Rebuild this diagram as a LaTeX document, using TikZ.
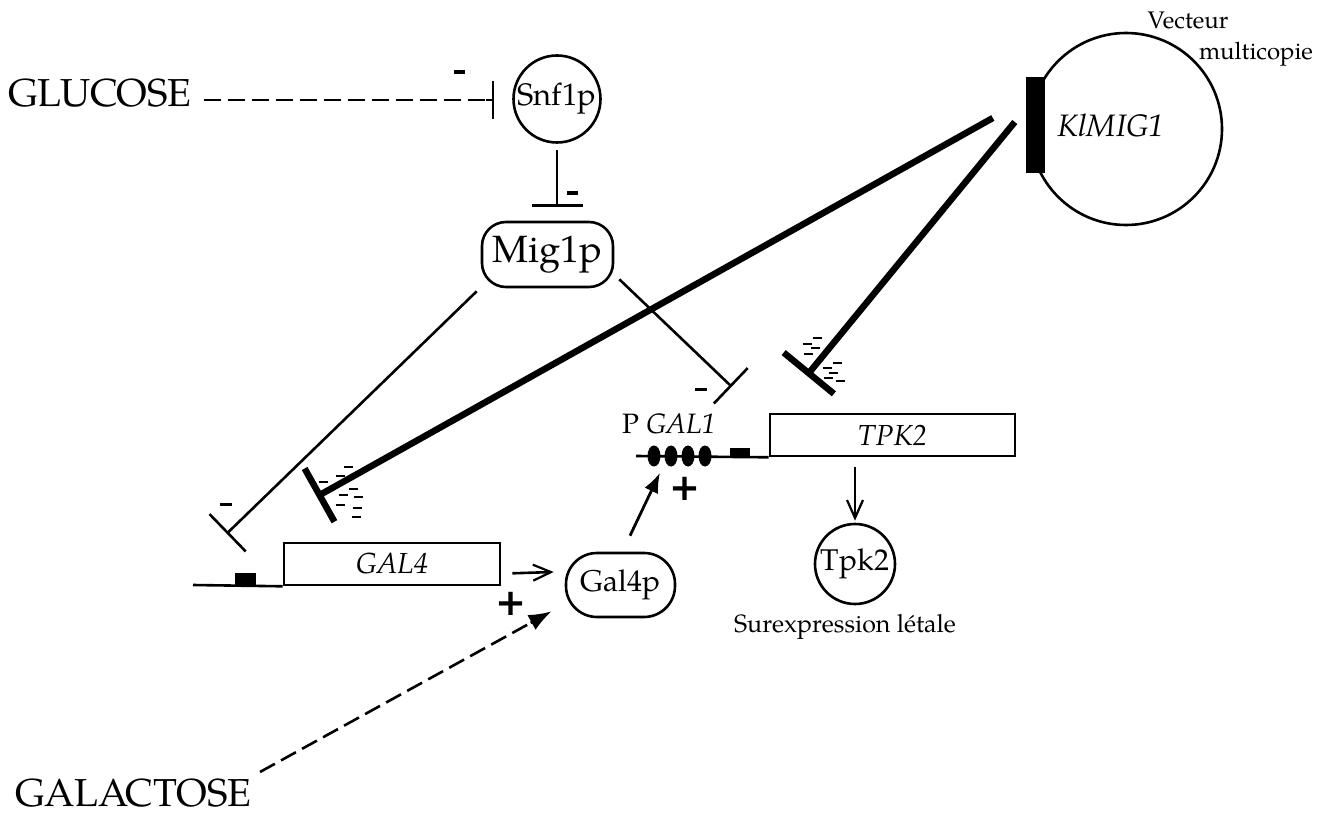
\documentclass[tikz,border=0pt]{standalone}
\usepackage{fontspec}
\setmainfont{texgyrepagella}[Extension=.otf, UprightFont=*-regular, ItalicFont=*-italic, BoldFont=*-bold, BoldItalicFont=*-bolditalic]
\newfontfamily\signfont{DejaVu Sans}
\usetikzlibrary{arrows.meta,calc,shapes.geometric}

\newcommand\fsz[1]{\fontsize{#1}{#1}\selectfont}

\begin{document}
\begin{tikzpicture}[x=1pt,y=-1pt,
  thinln/.style={line width=2.6pt},
  thickln/.style={line width=6.5pt},
  inhib/.style={thinln,-{Bar[width=#1]}},
  strong/.style={thickln,-{Bar[width=#1]}},
  openarr/.style={thinln,-{Straight Barb[length=18pt,width=16pt,line width=2.2pt]}},
  fillarr/.style={line width=2.8pt,-{Latex[length=20pt,width=15pt]}},
  dashln/.style={thinln,dash pattern=on 17pt off 7pt},
  gene/.style={draw,thinln,rectangle,inner sep=0,minimum height=42pt,font=\fsz{29}\itshape},
  prot/.style={draw,thinln,inner sep=0},
  plus/.style={inner sep=0,font=\signfont\bfseries\fsz{37}},
  minus/.style={line width=4pt},
  tick/.style={line width=2pt},
  promo/.style={fill=black,inner sep=0}
]
\useasboundingbox (0,0) rectangle (1331,818);

% ---- inputs ----
\node[anchor=base west,inner sep=0,font=\fsz{39}] (glucose) at (8,107) {GLUCOSE};
\node[anchor=base west,inner sep=0,font=\fsz{39}] (galactose) at (15,806) {GALACTOSE};

% ---- proteins ----
\node[prot,circle,minimum size=87pt,font=\fsz{31}] (snf) at (557,99) {Snf1p};
\node[prot,rectangle,rounded corners=24pt,minimum width=131pt,minimum height=65pt,font=\fsz{38}] (mig) at (547.5,254.5) {Mig1p};
\node[prot,rectangle,rounded corners=31pt,minimum width=109pt,minimum height=64pt,font=\fsz{30}] (gal4p) at (620.5,585) {Gal4p};
\node[prot,circle,minimum size=80pt,font=\fsz{30}] (tpk2p) at (855,564) {Tpk2};
\node[anchor=base,inner sep=0,font=\fsz{25}] (lethal) at (845,632) {Surexpression létale};

% ---- multicopy vector ----
\node[prot,circle,minimum size=192pt] (vec) at (1126,129) {};
\node[promo,minimum width=19pt,minimum height=96pt] (klbar) at (1035.5,125) {};
\node[anchor=base,inner sep=0,font=\fsz{31}\itshape] (klmig) at (1111,137) {KlMIG1};
\node[anchor=base,inner sep=0,font=\fsz{24}] (vect) at (1188,29) {Vecteur};
\node[anchor=base,inner sep=0,font=\fsz{24}] (multi) at (1256,60) {multicopie};

% ---- GAL4 gene ----
\node[gene,minimum width=216pt] (gal4box) at (392,564) {GAL4};
\coordinate (g4left) at (193,585);
\draw[thinln] (g4left) -- (gal4box.south west);
\node[promo,minimum width=21pt,minimum height=12pt] (g4prom) at (245.5,579) {};

% ---- GAL1 promoter + TPK2 gene ----
\node[gene,minimum width=245pt] (tpk2box) at (892.5,435) {TPK2};
\coordinate (g1left) at (636,456);
\draw[thinln] (g1left) -- (tpk2box.south west);
\node[promo,minimum width=20pt,minimum height=8pt] (tpkprom) at (740,452) {};
\foreach \i/\x in {1/654,2/671,3/688,4/705}
  \node[fill=black,ellipse,inner sep=0,minimum width=13pt,minimum height=21pt] (o\i) at (\x,456) {};
\node[anchor=base west,inner sep=0,font=\fsz{28}] (pgal1) at (622,433) {P \textit{GAL1}};

% ---- glucose repression cascade ----
\coordinate (gS) at ($(glucose.east)+(12,0)$);
\coordinate (gE) at ($(snf.west)+(-18,1)$);
\draw[dashln] (gS |- gE) -- ($(gE)+(-6,0)$);
\draw[inhib=38pt] ($(gE)+(-8,0)$) -- (gE);
\draw[minus] (454,72) -- ++(11,0);
\draw[inhib=51pt] ($(snf.south)+(0,6)$) -- ($(snf.south |- mig.north)+(0,-14)$);
\draw[minus,line width=4.5pt] (567,193) -- ++(11,0);

% Mig1p represses GAL4 and GAL1
\coordinate (m4) at ($(gal4box.north west)+(-56,-8)$);
\coordinate (m1) at ($(tpk2box.north west)+(-37,-26)$);
\draw[inhib=52pt] ($(mig.south west)+(-4,3)$) -- (m4);
\draw[minus,line width=3pt] (220,504) -- ++(12,0);
\draw[inhib=49pt] ($(mig.south east)+(5,-9)$) -- (m1);
\draw[minus,line width=3pt] (695,389.5) -- ++(12,0);

% KlMIG1 overexpression: strong repression
\coordinate (k1) at ($(klbar.west)+(-33,-7)$);
\coordinate (k2) at ($(klbar.west)+(-11,-3)$);
\coordinate (s4) at ($(gal4box.north west)+(34,-45)$);
\coordinate (s2) at ($(tpk2box.north west)+(38,-37)$);
\draw[strong=61pt] (k1) -- (s4);
\draw[strong=65pt] (k2) -- (s2);
\foreach \x/\y in {348/467,340/476,323/482,353/489,343/495,358/497,340/505,357/508,356/517}
  \draw[tick] (\x-4.5,\y) -- (\x+4.5,\y);
\foreach \x/\y in {817/338,807/344,815/348,808/354,837/363,827/368,833/373,828/378,840/381}
  \draw[tick] (\x-4.5,\y) -- (\x+4.5,\y);

% ---- activation ----
\draw[openarr] ($(gal4box.south east)+(11,-13)$) -- ($(gal4p.west)+(-11,-13)$);
\node[plus] at (511,604) {+};
\coordinate (galS) at (260,772);
\coordinate (galE) at ($(gal4p.south west)+(-13,-7)$);
\draw[dashln] (galS) -- ($(galE)!20pt!(galS)$);
\draw[line width=2.6pt,-{Latex[length=23pt,width=17pt]}] ($(galE)!24pt!(galS)$) -- (galE);
\draw[fillarr] ($(gal4p.north)+(9.5,-16)$) -- ($(o1.south)+(6,6)$);
\node[plus] at (685,489) {+};
\draw[openarr] ($(tpk2p.north |- tpk2box.south)+(0,10)$) -- ($(tpk2p.north)+(0,-2)$);
\end{tikzpicture}
\end{document}
